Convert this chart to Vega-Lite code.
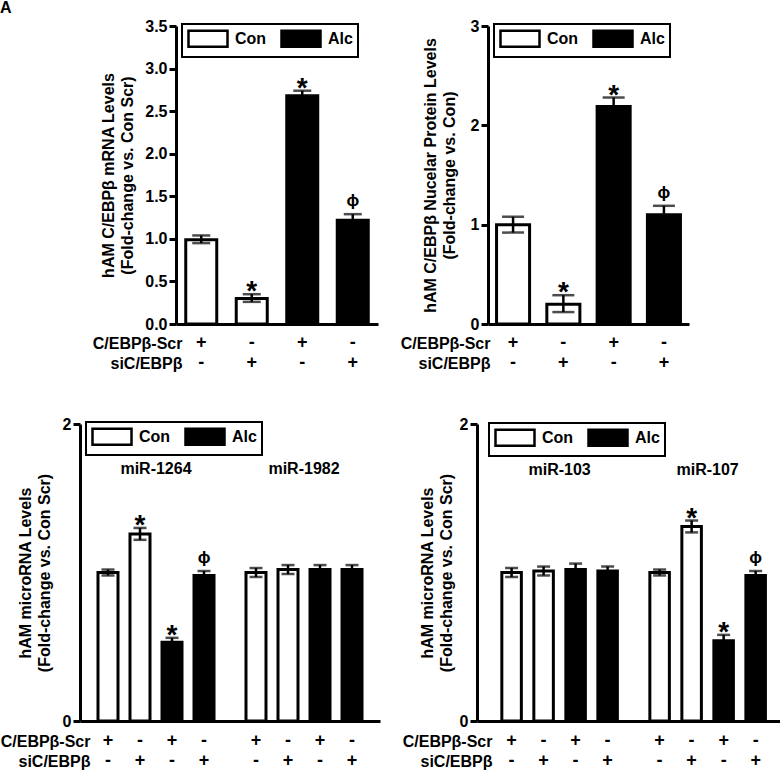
{
  "$schema": "https://vega.github.io/schema/vega-lite/v6.json",
  "padding": 0,
  "background": "white",
  "config": {
    "font": "Liberation Sans",
    "view": {"stroke": null},
    "axis": {
      "domainColor": "black", "domainWidth": 3, "tickColor": "black", "tickWidth": 3, "tickSize": 7,
      "labelFont": "Liberation Sans", "labelFontSize": 16, "labelFontWeight": "bold", "labelColor": "black", "labelPadding": 2,
      "titleFont": "Liberation Sans", "titleFontSize": 16, "titleFontWeight": "bold", "titleColor": "black", "titleLineHeight": 19,
      "grid": false
    },
    "text": {"font": "Liberation Sans", "fontWeight": "bold", "color": "black"},
    "legend": {
      "orient": "none", "direction": "horizontal", "title": null,
      "symbolType": "M-1,-1H3.875V1H-1Z", "symbolSize": 256, "symbolStrokeColor": "black", "symbolStrokeWidth": 2.5,
      "labelOffset": 29, "labelFont": "Liberation Sans", "labelFontSize": 16, "labelFontWeight": "bold", "labelColor": "black",
      "columnPadding": 9, "padding": 5, "strokeColor": "black"
    }
  },
  "datasets": {
    "A": [
      {"g": "A", "b": 1, "t": "Con", "v": 0.99, "lo": 0.95, "hi": 1.04, "sig": "", "scr": "+", "si": "-"},
      {"g": "A", "b": 2, "t": "Con", "v": 0.30, "lo": 0.26, "hi": 0.35, "sig": "*", "scr": "-", "si": "+"},
      {"g": "A", "b": 3, "t": "Alc", "v": 2.68, "lo": 2.62, "hi": 2.74, "sig": "*", "scr": "+", "si": "-"},
      {"g": "A", "b": 4, "t": "Alc", "v": 1.22, "lo": 1.16, "hi": 1.29, "sig": "ϕ", "scr": "-", "si": "+"}
    ],
    "B": [
      {"g": "B", "b": 1, "t": "Con", "v": 1.00, "lo": 0.92, "hi": 1.08, "sig": "", "scr": "+", "si": "-"},
      {"g": "B", "b": 2, "t": "Con", "v": 0.20, "lo": 0.12, "hi": 0.29, "sig": "*", "scr": "-", "si": "+"},
      {"g": "B", "b": 3, "t": "Alc", "v": 2.19, "lo": 2.10, "hi": 2.28, "sig": "*", "scr": "+", "si": "-"},
      {"g": "B", "b": 4, "t": "Alc", "v": 1.10, "lo": 1.01, "hi": 1.19, "sig": "ϕ", "scr": "-", "si": "+"}
    ],
    "C": [
      {"g": "miR-1264", "b": 1, "t": "Con", "v": 1.00, "lo": 0.98, "hi": 1.02, "sig": "", "scr": "+", "si": "-"},
      {"g": "miR-1264", "b": 2, "t": "Con", "v": 1.26, "lo": 1.22, "hi": 1.30, "sig": "*", "scr": "-", "si": "+"},
      {"g": "miR-1264", "b": 3, "t": "Alc", "v": 0.53, "lo": 0.50, "hi": 0.56, "sig": "*", "scr": "+", "si": "-"},
      {"g": "miR-1264", "b": 4, "t": "Alc", "v": 0.98, "lo": 0.95, "hi": 1.01, "sig": "ϕ", "scr": "-", "si": "+"},
      {"g": "miR-1982", "b": 1, "t": "Con", "v": 1.00, "lo": 0.97, "hi": 1.03, "sig": "", "scr": "+", "si": "-"},
      {"g": "miR-1982", "b": 2, "t": "Con", "v": 1.02, "lo": 0.99, "hi": 1.05, "sig": "", "scr": "-", "si": "+"},
      {"g": "miR-1982", "b": 3, "t": "Alc", "v": 1.02, "lo": 0.99, "hi": 1.05, "sig": "", "scr": "+", "si": "-"},
      {"g": "miR-1982", "b": 4, "t": "Alc", "v": 1.02, "lo": 0.99, "hi": 1.05, "sig": "", "scr": "-", "si": "+"}
    ],
    "D": [
      {"g": "miR-103", "b": 1, "t": "Con", "v": 1.00, "lo": 0.97, "hi": 1.03, "sig": "", "scr": "+", "si": "-"},
      {"g": "miR-103", "b": 2, "t": "Con", "v": 1.01, "lo": 0.98, "hi": 1.04, "sig": "", "scr": "-", "si": "+"},
      {"g": "miR-103", "b": 3, "t": "Alc", "v": 1.02, "lo": 0.98, "hi": 1.06, "sig": "", "scr": "+", "si": "-"},
      {"g": "miR-103", "b": 4, "t": "Alc", "v": 1.01, "lo": 0.98, "hi": 1.04, "sig": "", "scr": "-", "si": "+"},
      {"g": "miR-107", "b": 1, "t": "Con", "v": 1.00, "lo": 0.98, "hi": 1.02, "sig": "", "scr": "+", "si": "-"},
      {"g": "miR-107", "b": 2, "t": "Con", "v": 1.31, "lo": 1.27, "hi": 1.35, "sig": "*", "scr": "-", "si": "+"},
      {"g": "miR-107", "b": 3, "t": "Alc", "v": 0.54, "lo": 0.51, "hi": 0.58, "sig": "*", "scr": "+", "si": "-"},
      {"g": "miR-107", "b": 4, "t": "Alc", "v": 0.98, "lo": 0.95, "hi": 1.01, "sig": "ϕ", "scr": "-", "si": "+"}
    ],
    "CL": [{"g": "miR-1264"}, {"g": "miR-1982"}],
    "DL": [{"g": "miR-103"}, {"g": "miR-107"}]
  },
  "spacing": 43,
  "resolve": {"scale": {"fill": "independent", "xOffset": "independent", "x": "independent", "y": "independent"}, "legend": {"fill": "independent"}},
  "vconcat": [
    {
      "hconcat": [
        {
          "width": 10, "height": 298,
          "title": {"text": "A", "anchor": "start", "frame": "group", "dx": -80, "offset": 10, "fontSize": 16, "fontWeight": "bold", "color": "black"},
          "data": {"values": [{"lab": ""}]},
          "mark": {"type": "text"},
          "encoding": {"text": {"field": "lab"}}
        },
        {
          "hconcat": [
            {
              "width": 202, "height": 298,
              "data": {"name": "A"},
              "encoding": {
                "x": {"field": "g", "type": "nominal", "scale": {"paddingInner": 0, "paddingOuter": 0},
                  "axis": {"ticks": false, "labels": false, "title": ["C/EBPβ-Scr", "siC/EBPβ"], "titleAlign": "right", "titleBaseline": "middle", "titleAngle": 0, "titleX": 6, "titleY": 19, "titleLineHeight": 20}}
              },
              "layer": [
                {"mark": {"type": "bar", "stroke": "black", "strokeWidth": 3},
                 "encoding": {
                   "xOffset": {"field": "b", "type": "nominal", "scale": {"paddingInner": 0.386, "paddingOuter": 0.193}},
                   "y": {"field": "v", "type": "quantitative", "scale": {"domain": [0, 3.5], "nice": false},
                     "axis": {"values": [0, 0.5, 1, 1.5, 2, 2.5, 3, 3.5], "format": ".1f", "title": ["hAM C/EBPβ mRNA Levels", "(Fold-change vs. Con Scr)"], "titlePadding": 9}},
                   "fill": {"field": "t", "type": "nominal", "scale": {"domain": ["Con", "Alc"], "range": ["white", "black"]},
                     "legend": {"legendX": 6, "legendY": -2, "encode": {"legend": {"update": {"strokeWidth": {"value": 2}}}}}}
                 }},
                {"mark": {"type": "rule", "color": "black", "strokeWidth": 2.5},
                 "encoding": {"xOffset": {"field": "b", "type": "nominal"}, "y": {"field": "lo", "type": "quantitative"}, "y2": {"field": "hi"}}},
                {"mark": {"type": "tick", "color": "black", "thickness": 2.5, "size": 18},
                 "encoding": {"xOffset": {"field": "b", "type": "nominal"}, "y": {"field": "hi", "type": "quantitative"}}},
                {"mark": {"type": "tick", "color": "black", "thickness": 2.5, "size": 18},
                 "encoding": {"xOffset": {"field": "b", "type": "nominal"}, "y": {"field": "lo", "type": "quantitative"}}},
                {"transform": [{"filter": "datum.sig == '*'"}],
                 "mark": {"type": "text", "fontSize": 28, "baseline": "alphabetic", "dy": 6},
                 "encoding": {"xOffset": {"field": "b", "type": "nominal"}, "y": {"field": "hi", "type": "quantitative"}, "text": {"field": "sig"}}},
                {"transform": [{"filter": "datum.sig == 'ϕ'"}],
                 "mark": {"type": "text", "fontSize": 17, "baseline": "bottom", "dy": -4},
                 "encoding": {"xOffset": {"field": "b", "type": "nominal"}, "y": {"field": "hi", "type": "quantitative"}, "text": {"field": "sig"}}},
                {"mark": {"type": "text", "fontSize": 18, "baseline": "middle"},
                 "encoding": {"xOffset": {"field": "b", "type": "nominal"}, "y": {"datum": -0.223, "type": "quantitative"}, "text": {"field": "scr"}}},
                {"mark": {"type": "text", "fontSize": 18, "baseline": "middle"},
                 "encoding": {"xOffset": {"field": "b", "type": "nominal"}, "y": {"datum": -0.458, "type": "quantitative"}, "text": {"field": "si"}}}
              ]
            },
            {
              "width": 201, "height": 298,
              "data": {"name": "B"},
              "encoding": {
                "x": {"field": "g", "type": "nominal", "scale": {"paddingInner": 0, "paddingOuter": 0},
                  "axis": {"ticks": false, "labels": false, "title": ["C/EBPβ-Scr", "siC/EBPβ"], "titleAlign": "right", "titleBaseline": "middle", "titleAngle": 0, "titleX": 2, "titleY": 19, "titleLineHeight": 20}}
              },
              "layer": [
                {"mark": {"type": "bar", "stroke": "black", "strokeWidth": 3},
                 "encoding": {
                   "xOffset": {"field": "b", "type": "nominal", "scale": {"paddingInner": 0.343, "paddingOuter": 0.17}},
                   "y": {"field": "v", "type": "quantitative", "scale": {"domain": [0, 3], "nice": false},
                     "axis": {"values": [0, 1, 2, 3], "format": "d", "title": ["hAM C/EBPβ Nucelar Protein Levels", "(Fold-change vs. Con)"], "titlePadding": 13}},
                   "fill": {"field": "t", "type": "nominal", "scale": {"domain": ["Con", "Alc"], "range": ["white", "black"]},
                     "legend": {"legendX": 6, "legendY": -2, "encode": {"legend": {"update": {"strokeWidth": {"value": 2}}}}}}
                 }},
                {"mark": {"type": "rule", "color": "black", "strokeWidth": 2.5},
                 "encoding": {"xOffset": {"field": "b", "type": "nominal"}, "y": {"field": "lo", "type": "quantitative"}, "y2": {"field": "hi"}}},
                {"mark": {"type": "tick", "color": "black", "thickness": 2.5, "size": 22},
                 "encoding": {"xOffset": {"field": "b", "type": "nominal"}, "y": {"field": "hi", "type": "quantitative"}}},
                {"mark": {"type": "tick", "color": "black", "thickness": 2.5, "size": 22},
                 "encoding": {"xOffset": {"field": "b", "type": "nominal"}, "y": {"field": "lo", "type": "quantitative"}}},
                {"transform": [{"filter": "datum.sig == '*'"}],
                 "mark": {"type": "text", "fontSize": 28, "baseline": "alphabetic", "dy": 6},
                 "encoding": {"xOffset": {"field": "b", "type": "nominal"}, "y": {"field": "hi", "type": "quantitative"}, "text": {"field": "sig"}}},
                {"transform": [{"filter": "datum.sig == 'ϕ'"}],
                 "mark": {"type": "text", "fontSize": 17, "baseline": "bottom", "dy": -4},
                 "encoding": {"xOffset": {"field": "b", "type": "nominal"}, "y": {"field": "hi", "type": "quantitative"}, "text": {"field": "sig"}}},
                {"mark": {"type": "text", "fontSize": 18, "baseline": "middle"},
                 "encoding": {"xOffset": {"field": "b", "type": "nominal"}, "y": {"datum": -0.191, "type": "quantitative"}, "text": {"field": "scr"}}},
                {"mark": {"type": "text", "fontSize": 18, "baseline": "middle"},
                 "encoding": {"xOffset": {"field": "b", "type": "nominal"}, "y": {"datum": -0.393, "type": "quantitative"}, "text": {"field": "si"}}}
              ]
            }
          ],
          "spacing": 110,
          "bounds": "flush",
          "resolve": {"scale": {"fill": "independent", "xOffset": "independent", "x": "independent", "y": "independent"}, "legend": {"fill": "independent"}}
        }
      ],
      "spacing": 86,
      "bounds": "flush",
      "resolve": {"scale": {"fill": "independent", "xOffset": "independent", "x": "independent", "y": "independent"}, "legend": {"fill": "independent"}}
    },
    {
      "hconcat": [
        {
          "width": 300, "height": 297,
          "encoding": {
            "x": {"field": "g", "type": "nominal", "sort": ["miR-1264", "miR-1982"], "scale": {"paddingInner": 0.135, "paddingOuter": 0.081},
              "axis": {"ticks": false, "labels": false, "title": ["C/EBPβ-Scr", "siC/EBPβ"], "titleAlign": "right", "titleBaseline": "middle", "titleAngle": 0, "titleX": 10, "titleY": 20, "titleLineHeight": 20}}
          },
          "layer": [
            {"data": {"name": "C"},
             "mark": {"type": "bar", "stroke": "black", "strokeWidth": 3},
             "encoding": {
               "xOffset": {"field": "b", "type": "nominal", "scale": {"paddingInner": 0.375, "paddingOuter": 0.1875}},
               "y": {"field": "v", "type": "quantitative", "scale": {"domain": [0, 2], "nice": false},
                 "axis": {"values": [0, 1, 2], "format": "d", "title": ["hAM microRNA Levels", "(Fold-change vs. Con Scr)"], "titlePadding": 10}},
               "fill": {"field": "t", "type": "nominal", "scale": {"domain": ["Con", "Alc"], "range": ["white", "black"]},
                 "legend": {"legendX": 6, "legendY": -2, "encode": {"legend": {"update": {"strokeWidth": {"value": 2}}}}}}
             }},
            {"data": {"name": "C"}, "mark": {"type": "rule", "color": "black", "strokeWidth": 2.5},
             "encoding": {"xOffset": {"field": "b", "type": "nominal"}, "y": {"field": "lo", "type": "quantitative"}, "y2": {"field": "hi"}}},
            {"data": {"name": "C"}, "mark": {"type": "tick", "color": "black", "thickness": 2.5, "size": 13},
             "encoding": {"xOffset": {"field": "b", "type": "nominal"}, "y": {"field": "hi", "type": "quantitative"}}},
            {"data": {"name": "C"}, "mark": {"type": "tick", "color": "black", "thickness": 2.5, "size": 13},
             "encoding": {"xOffset": {"field": "b", "type": "nominal"}, "y": {"field": "lo", "type": "quantitative"}}},
            {"data": {"name": "C"}, "transform": [{"filter": "datum.sig == '*'"}],
             "mark": {"type": "text", "fontSize": 28, "baseline": "alphabetic", "dy": 6},
             "encoding": {"xOffset": {"field": "b", "type": "nominal"}, "y": {"field": "hi", "type": "quantitative"}, "text": {"field": "sig"}}},
            {"data": {"name": "C"}, "transform": [{"filter": "datum.sig == 'ϕ'"}],
             "mark": {"type": "text", "fontSize": 17, "baseline": "bottom", "dy": -4},
             "encoding": {"xOffset": {"field": "b", "type": "nominal"}, "y": {"field": "hi", "type": "quantitative"}, "text": {"field": "sig"}}},
            {"data": {"name": "C"}, "mark": {"type": "text", "fontSize": 18, "baseline": "middle"},
             "encoding": {"xOffset": {"field": "b", "type": "nominal"}, "y": {"datum": -0.135, "type": "quantitative"}, "text": {"field": "scr"}}},
            {"data": {"name": "C"}, "mark": {"type": "text", "fontSize": 18, "baseline": "middle"},
             "encoding": {"xOffset": {"field": "b", "type": "nominal"}, "y": {"datum": -0.269, "type": "quantitative"}, "text": {"field": "si"}}},
            {"data": {"name": "CL"}, "mark": {"type": "text", "fontSize": 16, "baseline": "middle"},
             "encoding": {"y": {"datum": 1.70, "type": "quantitative"}, "text": {"field": "g"}}}
          ]
        },
        {
          "width": 303, "height": 297,
          "encoding": {
            "x": {"field": "g", "type": "nominal", "sort": ["miR-103", "miR-107"], "scale": {"paddingInner": 0.135, "paddingOuter": 0.091, "align": 0.69},
              "axis": {"ticks": false, "labels": false, "title": ["C/EBPβ-Scr", "siC/EBPβ"], "titleAlign": "right", "titleBaseline": "middle", "titleAngle": 0, "titleX": 15, "titleY": 20, "titleLineHeight": 20}}
          },
          "layer": [
            {"data": {"name": "D"},
             "mark": {"type": "bar", "stroke": "black", "strokeWidth": 3},
             "encoding": {
               "xOffset": {"field": "b", "type": "nominal", "scale": {"paddingInner": 0.39, "paddingOuter": 0.195}},
               "y": {"field": "v", "type": "quantitative", "scale": {"domain": [0, 2], "nice": false},
                 "axis": {"values": [0, 1, 2], "format": "d", "title": ["hAM microRNA Levels", "(Fold-change vs. Con Scr)"], "titlePadding": 5}},
               "fill": {"field": "t", "type": "nominal", "scale": {"domain": ["Con", "Alc"], "range": ["white", "black"]},
                 "legend": {"legendX": 12, "legendY": -1, "encode": {"legend": {"update": {"strokeWidth": {"value": 2}}}}}}
             }},
            {"data": {"name": "D"}, "mark": {"type": "rule", "color": "black", "strokeWidth": 2.5},
             "encoding": {"xOffset": {"field": "b", "type": "nominal"}, "y": {"field": "lo", "type": "quantitative"}, "y2": {"field": "hi"}}},
            {"data": {"name": "D"}, "mark": {"type": "tick", "color": "black", "thickness": 2.5, "size": 13},
             "encoding": {"xOffset": {"field": "b", "type": "nominal"}, "y": {"field": "hi", "type": "quantitative"}}},
            {"data": {"name": "D"}, "mark": {"type": "tick", "color": "black", "thickness": 2.5, "size": 13},
             "encoding": {"xOffset": {"field": "b", "type": "nominal"}, "y": {"field": "lo", "type": "quantitative"}}},
            {"data": {"name": "D"}, "transform": [{"filter": "datum.sig == '*'"}],
             "mark": {"type": "text", "fontSize": 28, "baseline": "alphabetic", "dy": 6},
             "encoding": {"xOffset": {"field": "b", "type": "nominal"}, "y": {"field": "hi", "type": "quantitative"}, "text": {"field": "sig"}}},
            {"data": {"name": "D"}, "transform": [{"filter": "datum.sig == 'ϕ'"}],
             "mark": {"type": "text", "fontSize": 17, "baseline": "bottom", "dy": -4},
             "encoding": {"xOffset": {"field": "b", "type": "nominal"}, "y": {"field": "hi", "type": "quantitative"}, "text": {"field": "sig"}}},
            {"data": {"name": "D"}, "mark": {"type": "text", "fontSize": 18, "baseline": "middle"},
             "encoding": {"xOffset": {"field": "b", "type": "nominal"}, "y": {"datum": -0.135, "type": "quantitative"}, "text": {"field": "scr"}}},
            {"data": {"name": "D"}, "mark": {"type": "text", "fontSize": 18, "baseline": "middle"},
             "encoding": {"xOffset": {"field": "b", "type": "nominal"}, "y": {"datum": -0.269, "type": "quantitative"}, "text": {"field": "si"}}},
            {"data": {"name": "DL"}, "mark": {"type": "text", "fontSize": 16, "baseline": "middle"},
             "encoding": {"y": {"datum": 1.69, "type": "quantitative"}, "text": {"field": "g"}}}
          ]
        }
      ],
      "spacing": 97,
      "bounds": "flush",
      "resolve": {"scale": {"fill": "independent", "xOffset": "independent", "x": "independent", "y": "independent"}, "legend": {"fill": "independent"}}
    }
  ]
}
